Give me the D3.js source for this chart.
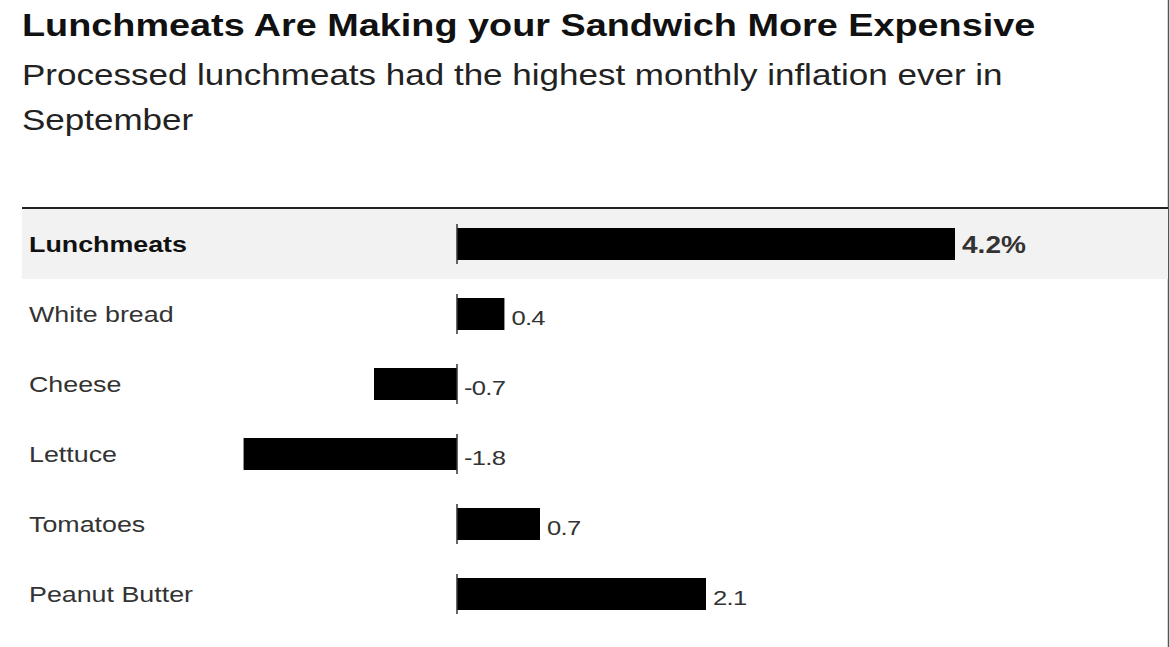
<!DOCTYPE html>
<html>
<head>
<meta charset="utf-8">
<script src="https://cdn.jsdelivr.net/npm/d3@7"></script>
<style>
  body { margin: 0; background: #fff; }
  svg { display: block; font-family: "Liberation Sans", Arial, sans-serif; }
</style>
</head>
<body>
<svg width="1170" height="647"></svg>
<script>
var categories = ["Lunchmeats", "White bread", "Cheese", "Lettuce", "Tomatoes", "Peanut Butter"];
var values = [4.2, 0.4, -0.7, -1.8, 0.7, 2.1];
var valueLabels = ["4.2%", "0.4", "-0.7", "-1.8", "0.7", "2.1"];

var data = categories.map(function(c, i) {
  return {name: c, value: values[i], label: valueLabels[i]};
});

// the reference type is a bit wider than Liberation Sans
var sx = 1.22;
function place(x, y) { return "translate(" + x + "," + y + ") scale(" + sx + ",1)"; }

var svg = d3.select("svg");

// Headlines
svg.append("text")
    .attr("transform", place(22, 36))
    .attr("font-size", 31)
    .attr("font-weight", "bold")
    .attr("fill", "#111")
    .text("Lunchmeats Are Making your Sandwich More Expensive");

svg.append("text")
    .attr("transform", place(22, 85))
    .attr("font-size", 28.7)
    .attr("fill", "#222")
    .text("Processed lunchmeats had the highest monthly inflation ever in");
svg.append("text")
    .attr("transform", place(22, 130))
    .attr("font-size", 28.7)
    .attr("fill", "#222")
    .text("September");

// right border
svg.append("line")
    .attr("x1", 1168.5).attr("x2", 1168.5)
    .attr("y1", 0).attr("y2", 647)
    .attr("stroke", "#555")
    .attr("stroke-width", 1.5);

var chartTop = 209, rowH = 70;

var y = d3.scaleBand()
    .domain(categories)
    .range([chartTop, chartTop + rowH * categories.length]);

var x = d3.scaleLinear()
    .domain([0, 4.2])
    .range([457, 955]);

// highlight row
svg.append("rect")
    .attr("x", 22)
    .attr("y", y("Lunchmeats"))
    .attr("width", 1146)
    .attr("height", y.bandwidth())
    .attr("fill", "#f2f2f2");

// top rule
svg.append("line")
    .attr("x1", 22).attr("x2", 1168)
    .attr("y1", 208).attr("y2", 208)
    .attr("stroke", "#222")
    .attr("stroke-width", 2);

var barH = 32;

var rows = svg.selectAll("g.row")
    .data(data)
    .enter()
    .append("g")
      .attr("class", "row")
      .attr("transform", function(d) { return "translate(0," + (y(d.name) + y.bandwidth() / 2) + ")"; });

// category labels
rows.append("text")
    .attr("transform", place(29, 8))
    .attr("font-size", 22)
    .attr("font-weight", function(d, i) { return i === 0 ? "bold" : "normal"; })
    .attr("fill", function(d, i) { return i === 0 ? "#111" : "#333"; })
    .text(function(d) { return d.name; });

// Bars
rows.append("rect")
    .attr("x", function(d) { return x(Math.min(0, d.value)); })
    .attr("y", -barH / 2)
    .attr("width", function(d) { return Math.abs(x(d.value) - x(0)); })
    .attr("height", barH)
    .attr("fill", "#000");

// zero tick
rows.append("line")
    .attr("x1", x(0)).attr("x2", x(0))
    .attr("y1", -barH / 2 - 4).attr("y2", barH / 2 + 4)
    .attr("stroke", "#333")
    .attr("stroke-width", 1.5);

// value labels
rows.append("text")
    .attr("transform", function(d, i) { return place(x(Math.max(0, d.value)) + 7, i === 0 ? 9 : 11); })
    .attr("font-size", function(d, i) { return i === 0 ? 23 : 21; })
    .attr("font-weight", function(d, i) { return i === 0 ? "bold" : "normal"; })
    .attr("fill", "#333")
    .attr("letter-spacing", function(d, i) { return i === 0 ? 0 : -0.6; })
    .text(function(d) { return d.label; });
</script>
</body>
</html>
